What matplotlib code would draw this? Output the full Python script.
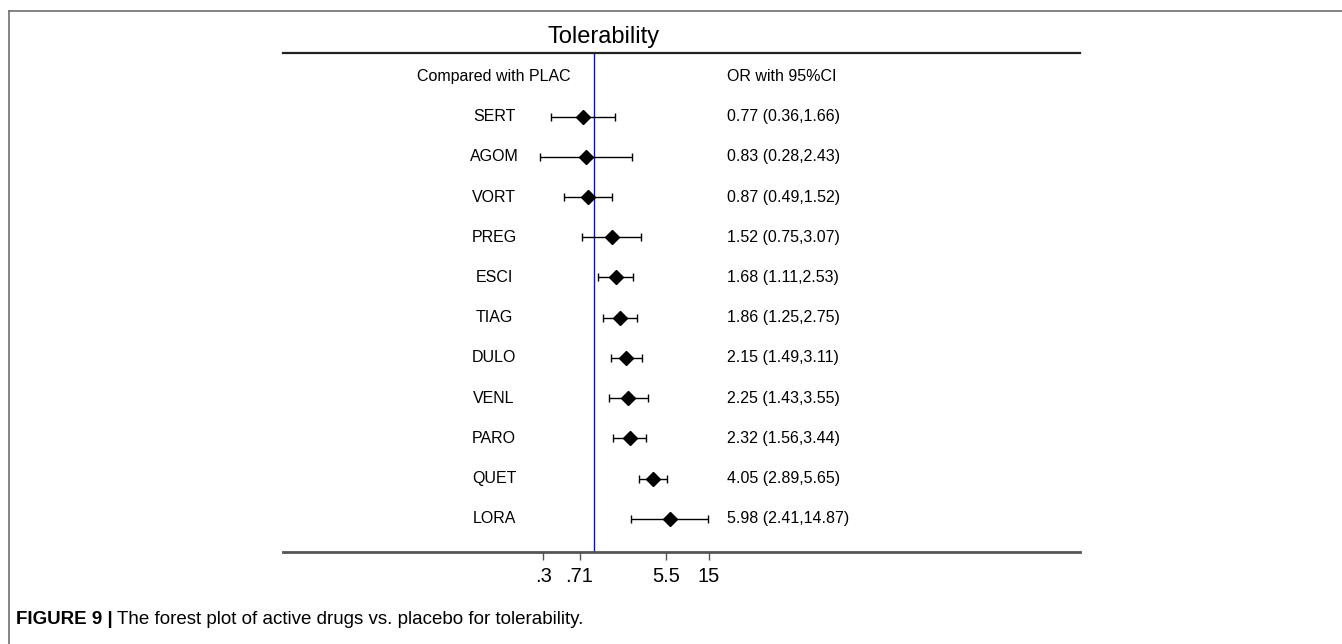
import matplotlib.pyplot as plt
import matplotlib.transforms as mtransforms
from matplotlib.lines import Line2D
from matplotlib.ticker import NullLocator
import numpy as np

plt.rcParams['font.family'] = ['Liberation Sans', 'DejaVu Sans']

# Data
drugs = ['SERT', 'AGOM', 'VORT', 'PREG', 'ESCI', 'TIAG', 'DULO', 'VENL', 'PARO', 'QUET', 'LORA']
odds = [0.77, 0.83, 0.87, 1.52, 1.68, 1.86, 2.15, 2.25, 2.32, 4.05, 5.98]
ci_low = [0.36, 0.28, 0.49, 0.75, 1.11, 1.25, 1.49, 1.43, 1.56, 2.89, 2.41]
ci_high = [1.66, 2.43, 1.52, 3.07, 2.53, 2.75, 3.11, 3.55, 3.44, 5.65, 14.87]
tick_vals = [0.3, 0.71, 5.5, 15]
tick_labels = ['.3', '.71', '5.5', '15']

W, H = 1342, 644
fig = plt.figure(figsize=(W / 100, H / 100), dpi=100)


def fx(px):
    return px / W


def fy(py):
    return 1 - py / H


# plot panel: pixel x 283..1080, y 53..552
left, right, top, bottom = 283, 1080, 53, 552
ax = fig.add_axes([fx(left), fy(bottom), (right - left) / W, (bottom - top) / H])
ax.set_xscale('log')
one_px, ppu = 594, 42.3   # OR = 1 position, pixels per ln unit
ax.set_xlim(np.exp((left - one_px) / ppu), np.exp((right - one_px) / ppu))
header_px, row_step = 76.5, 40.2
ax.set_ylim((bottom - header_px) / row_step, (top - header_px) / row_step)

odds_a = np.array(odds)
rows = np.arange(1, len(drugs) + 1)
xerr = [odds_a - np.array(ci_low), np.array(ci_high) - odds_a]
ax.errorbar(odds_a, rows, xerr=xerr, fmt='D', color='black', ms=7.5,
            elinewidth=1, capsize=3, capthick=1, zorder=3)
ax.axvline(1, color='#1010c8', lw=1, zorder=2)

for s in ['left', 'right']:
    ax.spines[s].set_visible(False)
ax.spines['top'].set_color('#222222')
ax.spines['top'].set_linewidth(1.6)
ax.spines['bottom'].set_color('#555555')
ax.spines['bottom'].set_linewidth(2)
ax.set_xticks(tick_vals, tick_labels)
ax.xaxis.set_minor_locator(NullLocator())
ax.tick_params(axis='x', length=6, width=1, color='#555555', labelsize=14.5, pad=5)
ax.set_yticks([])

# text columns
trans = mtransforms.blended_transform_factory(fig.transFigure, ax.transData)
fs = 11.5
ax.text(fx(494), 0, 'Compared with PLAC', transform=trans, ha='center', va='center', fontsize=fs)
ax.text(fx(727), 0, 'OR with 95%CI', transform=trans, ha='left', va='center', fontsize=fs)
for r, name, o, lo, hi in zip(rows, drugs, odds, ci_low, ci_high):
    ax.text(fx(494), r, name, transform=trans, ha='center', va='center', fontsize=fs)
    ax.text(fx(727), r, f'{o:.2f} ({lo:.2f},{hi:.2f})', transform=trans,
            ha='left', va='center', fontsize=fs)

fig.text(fx(604), fy(37), 'Tolerability', ha='center', va='center', fontsize=17)

# caption
cap_fs = 13.5
cap1 = fig.text(fx(16), fy(620), 'FIGURE 9 |', ha='left', va='center',
                fontsize=cap_fs, fontweight='bold')
renderer = fig.canvas.get_renderer()
bb = cap1.get_window_extent(renderer)
fig.text(bb.x1 / W + fx(4), fy(620), 'The forest plot of active drugs vs. placebo for tolerability.',
         ha='left', va='center', fontsize=cap_fs)

# page frame (top and left edges)
fig.add_artist(Line2D([fx(9), 1], [fy(11), fy(11)], transform=fig.transFigure, color='#707070', lw=1.2))
fig.add_artist(Line2D([fx(9), fx(9)], [fy(11), 0], transform=fig.transFigure, color='#707070', lw=1.2))

fig.savefig('out.png', dpi=100)
